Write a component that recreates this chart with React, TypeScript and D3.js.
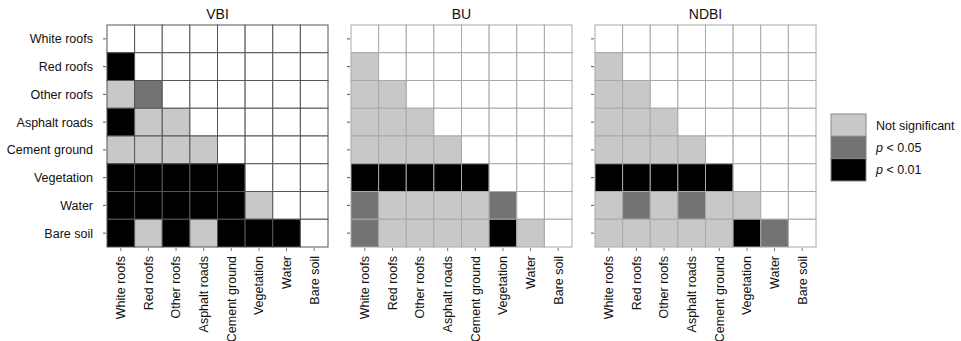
import React from "react";
import * as d3 from "d3";

// land cover classes (rows and columns)
const classes = [
  "White roofs",
  "Red roofs",
  "Other roofs",
  "Asphalt roads",
  "Cement ground",
  "Vegetation",
  "Water",
  "Bare soil",
];

// significance codes: 1 = not significant, 2 = p < 0.05, 3 = p < 0.01
// lower triangle only, row i has i entries
const vbi = [
  [],
  [3],
  [1, 2],
  [3, 1, 1],
  [1, 1, 1, 1],
  [3, 3, 3, 3, 3],
  [3, 3, 3, 3, 3, 1],
  [3, 1, 3, 1, 3, 3, 3],
];

const bu = [
  [],
  [1],
  [1, 1],
  [1, 1, 1],
  [1, 1, 1, 1],
  [3, 3, 3, 3, 3],
  [2, 1, 1, 1, 1, 2],
  [2, 1, 1, 1, 1, 3, 1],
];

const ndbi = [
  [],
  [1],
  [1, 1],
  [1, 1, 1],
  [1, 1, 1, 1],
  [3, 3, 3, 3, 3],
  [1, 2, 1, 2, 1, 1],
  [1, 1, 1, 1, 1, 3, 2],
];

const legendLabels = ["Not significant", "p < 0.05", "p < 0.01"];

const panels = [
  { title: "VBI", data: vbi, left: 107, grid: "#555" },
  { title: "BU", data: bu, left: 351, grid: "#a8a8a8" },
  { title: "NDBI", data: ndbi, left: 595, grid: "#a8a8a8" },
];

const fills = ["#ffffff", "#c8c8c8", "#737373", "#000000"];
const font = "'Liberation Sans', Arial, sans-serif";

const W = 961;
const H = 341;
const top = 25;
const gw = 221;
const gh = 222;

const Panel = ({ p, showLabels }) => {
  const x = d3.scaleBand().domain(classes).range([p.left, p.left + gw]);
  const y = d3.scaleBand().domain(classes).range([top, top + gh]);
  const cells = [];
  classes.forEach((r, i) => {
    classes.forEach((c, j) => {
      const v = j < i ? p.data[i][j] : 0;
      cells.push({ r, c, v });
    });
  });
  return (
    <g>
      <text
        x={p.left + gw / 2}
        y={top - 6}
        textAnchor="middle"
        fontSize={14}
        fill="#111"
      >
        {p.title}
      </text>
      {cells.map((d, k) => (
        <rect
          key={k}
          x={x(d.c)}
          y={y(d.r)}
          width={x.bandwidth()}
          height={y.bandwidth()}
          fill={fills[d.v]}
          stroke={p.grid}
          strokeWidth={1}
        />
      ))}
      {classes.map((c) => (
        <g key={"y" + c}>
          <line
            x1={p.left - 4}
            x2={p.left - 1}
            y1={y(c) + y.bandwidth() / 2}
            y2={y(c) + y.bandwidth() / 2}
            stroke="#555"
          />
          {showLabels && (
            <text
              x={p.left - 14}
              y={y(c) + y.bandwidth() / 2}
              dy="0.35em"
              textAnchor="end"
              fontSize={12.5}
              fill="#111"
            >
              {c}
            </text>
          )}
        </g>
      ))}
      {classes.map((c) => {
        const cx = x(c) + x.bandwidth() / 2;
        return (
          <g key={"x" + c}>
            <line
              x1={cx}
              x2={cx}
              y1={top + gh + 1}
              y2={top + gh + 4}
              stroke="#777"
            />
            <text
              transform={`translate(${cx},${top + gh + 9}) rotate(-90)`}
              dy="0.35em"
              textAnchor="end"
              fontSize={12.5}
              fill="#111"
            >
              {c}
            </text>
          </g>
        );
      })}
    </g>
  );
};

export default function App() {
  const ly = d3
    .scaleBand()
    .domain(legendLabels)
    .range([114, 181]);
  return (
    <svg
      width={W}
      height={H}
      style={{ position: "absolute", left: 0, top: 0, background: "#fff" }}
      fontFamily={font}
    >
      {panels.map((p, i) => (
        <Panel key={p.title} p={p} showLabels={i === 0} />
      ))}
      <g>
        {legendLabels.map((l, i) => (
          <g key={l}>
            <rect
              x={831}
              y={ly(l)}
              width={35}
              height={ly.bandwidth()}
              fill={fills[i + 1]}
              stroke="#888"
            />
            <text
              x={876}
              y={ly(l) + ly.bandwidth() / 2}
              dy="0.35em"
              fontSize={12.5}
              fill="#111"
            >
              {i === 0 ? (
                l
              ) : (
                <>
                  <tspan fontStyle="italic">p</tspan>
                  {l.slice(1)}
                </>
              )}
            </text>
          </g>
        ))}
      </g>
    </svg>
  );
}
